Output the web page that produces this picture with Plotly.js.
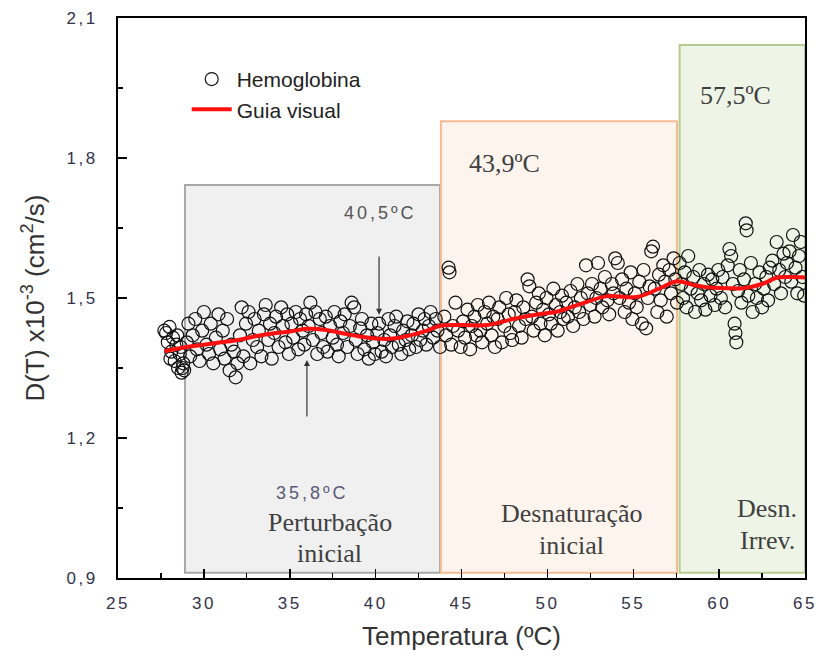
<!DOCTYPE html>
<html>
<head>
<meta charset="utf-8">
<script src="https://cdn.plot.ly/plotly-3.0.1.min.js"></script>
<style>
html,body{margin:0;padding:0;background:#fff;}
#chart{width:817px;height:659px;}
#chart g.xtick text, #chart g.ytick text{letter-spacing:2.5px;}
</style>
</head>
<body>
<div id="chart"></div>
<script>
// Hemoglobina: temperature (ºC) and D(T) x10^-3 (cm^2/s)
const temps = [
27.7,27.8,27.9,28.0,28.05,28.1,28.2,28.3,28.4,28.45,28.5,28.6,28.65,28.7,28.75,28.8,28.85,
29.0,29.1,29.2,29.35,29.5,29.6,29.75,29.9,
30.0,30.15,30.3,30.4,30.55,30.7,30.85,30.95,
31.1,31.2,31.35,31.5,31.6,31.75,31.85,31.95,
32.1,32.2,32.3,32.45,32.6,32.7,32.85,32.95,
33.1,33.2,33.35,33.5,33.6,33.75,33.85,33.95,
34.1,34.2,34.35,34.5,34.6,34.75,34.85,34.95,
35.1,35.2,35.35,35.5,35.6,35.75,35.85,35.95,
36.1,36.2,36.35,36.5,36.6,36.75,36.85,36.95,
37.1,37.2,37.35,37.5,37.6,37.75,37.85,37.95,
38.1,38.2,38.35,38.5,38.6,38.75,38.85,38.95,
39.1,39.2,39.35,39.5,39.6,39.75,39.85,39.95,
40.1,40.2,40.35,40.5,40.6,40.75,40.85,40.95,
41.1,41.2,41.35,41.5,41.6,41.75,41.85,41.95,
42.1,42.2,42.35,42.5,42.6,42.75,42.85,42.95,
43.1,43.2,43.35,43.5,43.6,43.75,
44.0,44.1,44.25,44.3,44.4,44.5,44.65,44.8,44.95,
45.1,45.2,45.35,45.5,45.6,45.75,45.85,45.95,
46.1,46.2,46.35,46.5,46.6,46.75,46.85,46.95,
47.1,47.2,47.35,47.5,47.6,47.75,47.85,47.95,
48.1,48.2,48.35,48.5,48.6,48.75,48.85,48.95,
49.1,49.2,49.35,49.5,49.6,49.75,49.85,49.95,
50.1,50.2,50.35,50.5,50.6,50.75,50.85,50.95,
51.1,51.2,51.35,51.5,51.6,51.75,51.85,51.95,
52.1,52.25,52.35,52.5,52.6,52.75,52.85,52.95,
53.1,53.2,53.35,53.5,53.6,53.75,53.85,53.95,
54.1,54.2,54.35,54.5,54.6,54.75,54.85,54.95,
55.1,55.2,55.35,55.5,55.6,55.75,55.85,55.95,
56.05,56.15,56.25,56.4,56.5,56.6,56.75,56.85,56.95,
57.1,57.2,57.35,57.45,57.55,
57.7,57.8,57.9,58.0,
58.1,58.2,58.35,58.5,58.6,58.75,58.85,58.95,
59.1,59.2,59.35,59.5,59.6,59.75,59.85,59.95,
60.1,60.2,60.35,60.5,60.6,60.7,60.8,60.9,60.95,61.0,
61.1,61.2,61.3,61.45,61.55,61.6,61.7,61.85,61.95,
62.1,62.2,62.35,62.5,62.6,62.75,62.85,62.95,
63.1,63.2,63.35,63.5,63.6,63.75,63.85,63.95,
64.1,64.2,64.3,64.45,64.55,64.65,64.75,64.85,64.95
];
const diffusion = [
1.430,1.425,1.405,1.438,1.370,1.385,1.415,1.365,1.400,1.420,1.350,1.380,1.395,1.340,1.350,1.360,1.345,
1.405,1.445,1.375,1.420,1.455,1.390,1.365,1.430,
1.470,1.400,1.380,1.445,1.360,1.415,1.465,1.390,
1.430,1.370,1.455,1.345,1.400,1.385,1.330,1.360,
1.420,1.480,1.375,1.445,1.470,1.360,1.410,1.455,
1.395,1.430,1.375,1.465,1.485,1.410,1.445,1.370,
1.425,1.460,1.395,1.480,1.440,1.405,1.465,1.380,
1.445,1.415,1.470,1.390,1.455,1.430,1.400,1.465,
1.440,1.490,1.410,1.470,1.380,1.455,1.425,1.395,
1.460,1.385,1.440,1.415,1.470,1.400,1.375,1.450,
1.425,1.465,1.395,1.440,1.490,1.480,1.410,1.380,
1.435,1.455,1.390,1.420,1.370,1.445,1.405,1.380,
1.425,1.445,1.385,1.410,1.375,1.455,1.420,1.395,
1.440,1.460,1.400,1.380,1.430,1.410,1.450,1.390,
1.420,1.445,1.395,1.465,1.410,1.430,1.455,1.400,
1.440,1.470,1.415,1.455,1.430,1.395,
1.460,1.420,1.565,1.555,1.400,1.440,1.490,1.430,1.395,
1.450,1.415,1.475,1.390,1.440,1.460,1.420,1.485,
1.430,1.405,1.470,1.445,1.490,1.420,1.460,1.395,
1.455,1.480,1.405,1.440,1.500,1.465,1.425,1.410,
1.470,1.495,1.440,1.415,1.480,1.455,1.540,1.525,
1.460,1.430,1.490,1.510,1.445,1.475,1.420,1.500,
1.465,1.445,1.520,1.485,1.430,1.470,1.505,1.455,
1.490,1.460,1.515,1.440,1.480,1.530,1.470,1.500,
1.455,1.570,1.510,1.485,1.530,1.460,1.500,1.575,
1.520,1.480,1.545,1.495,1.465,1.530,1.510,1.585,
1.575,1.500,1.540,1.470,1.520,1.490,1.555,1.455,
1.510,1.480,1.535,1.445,1.560,1.435,1.500,1.525,
1.600,1.610,1.520,1.470,1.550,1.495,1.570,1.535,1.460,
1.560,1.510,1.585,1.540,1.490,
1.575,1.530,1.500,1.555,
1.480,1.590,1.520,1.545,1.470,1.510,1.560,1.495,
1.530,1.475,1.550,1.505,1.540,1.485,1.520,1.560,
1.500,1.545,1.480,1.570,1.605,1.590,1.530,1.445,1.425,1.405,
1.515,1.560,1.490,1.540,1.660,1.645,1.505,1.575,1.470,
1.530,1.500,1.555,1.480,1.520,1.545,1.495,1.565,
1.580,1.530,1.620,1.560,1.510,1.595,1.545,1.575,
1.600,1.535,1.635,1.565,1.510,1.590,1.620,1.545,1.505
];
// Guia visual (smooth guide line)
const guideT = [27.7,29.0,30.0,31.0,32.0,33.0,34.0,35.0,36.0,37.0,38.0,39.0,40.0,41.0,42.0,43.0,43.7,45.0,46.5,48.0,49.5,50.6,52.0,53.5,55.2,56.5,57.55,58.5,59.3,60.5,61.4,62.5,63.4,64.2,65.0];
const guideD = [1.386,1.395,1.400,1.405,1.410,1.418,1.424,1.428,1.434,1.432,1.425,1.418,1.413,1.413,1.420,1.430,1.440,1.442,1.442,1.455,1.465,1.471,1.488,1.504,1.502,1.520,1.536,1.528,1.523,1.521,1.521,1.530,1.544,1.545,1.544];

const xTicks = [25,30,35,40,45,50,55,60,65];
const yTicks = [0.9,1.2,1.5,1.8,2.1];

const traces = [
  {x: temps, y: diffusion, type: 'scatter', mode: 'markers', name: 'Hemoglobina',
   marker: {symbol: 'circle-open', size: 13, color: '#111', line: {width: 1.2, color: '#111'}}},
  {x: guideT, y: guideD, type: 'scatter', mode: 'lines', name: 'Guia visual',
   line: {color: '#ff1010', width: 4, shape: 'spline'}}
];

const serif = {family: 'Liberation Serif, Times New Roman, serif', size: 26, color: '#3f3f3f'};
const sans = {family: 'Liberation Sans, Arial, sans-serif', size: 18, color: '#555'};
const sansTitle = {family: 'Liberation Sans, Arial, sans-serif', size: 26, color: '#333'};
const tickFont = {family: 'Liberation Sans, Arial, sans-serif', size: 17, color: '#33334a'};

function txt(x, y, text, font) {
  return {x: x, y: y, xref: 'x', yref: 'y', text: text, showarrow: false, font: font};
}

const layout = {
  width: 817, height: 659,
  margin: {l: 118, r: 12, t: 18, b: 81},
  paper_bgcolor: '#fff', plot_bgcolor: '#fff',
  separators: ',.',
  showlegend: true,
  legend: {x: 0.1, y: 0.927, xanchor: 'left', yanchor: 'top', bgcolor: 'rgba(0,0,0,0)',
           font: {family: 'Liberation Sans, Arial, sans-serif', size: 21, color: '#222'},
           tracegroupgap: 0, itemwidth: 40},
  xaxis: {range: [25, 65], tickvals: xTicks, ticktext: xTicks.map(String),
          ticks: 'inside', ticklen: 9, tickwidth: 1.5, tickcolor: '#000',
          minor: {dtick: 2.5, tick0: 25, ticks: 'inside', ticklen: 5, tickwidth: 1.2, tickcolor: '#000'},
          showline: true, linewidth: 2, linecolor: '#000', mirror: true,
          showgrid: false, zeroline: false, ticklabelstandoff: 9,
          tickfont: tickFont,
          title: {text: 'Temperatura (ºC)', font: sansTitle, standoff: 14}},
  yaxis: {range: [0.9, 2.1], tickvals: yTicks, ticktext: yTicks.map(v => v.toFixed(1).replace('.', ',')),
          ticks: 'inside', ticklen: 9, tickwidth: 1.5, tickcolor: '#000',
          minor: {dtick: 0.15, tick0: 0.9, ticks: 'inside', ticklen: 5, tickwidth: 1.2, tickcolor: '#000'},
          showline: true, linewidth: 2, linecolor: '#000', mirror: true,
          showgrid: false, zeroline: false, ticklabelstandoff: 15,
          tickfont: tickFont,
          title: {text: 'D(T) x10<sup>-3</sup> (cm<sup>2</sup>/s)', font: sansTitle, standoff: 22}},
  shapes: [
    {type: 'rect', xref: 'x', yref: 'y', x0: 28.9, x1: 43.75, y0: 0.911, y1: 1.742, layer: 'below',
     fillcolor: '#f0f0f0', line: {color: '#a8a8a8', width: 2}},
    {type: 'rect', xref: 'x', yref: 'y', x0: 43.8, x1: 57.55, y0: 0.911, y1: 1.879, layer: 'below',
     fillcolor: '#fdf4ee', line: {color: '#f5bb92', width: 2}},
    {type: 'rect', xref: 'x', yref: 'y', x0: 57.7, x1: 65, y0: 0.911, y1: 2.042, layer: 'below',
     fillcolor: '#eef4e6', line: {color: '#b5cc8e', width: 2}}
  ],
  annotations: [
    txt(40.26, 1.682, '40,5ºC', sans),
    {x: 40.2, y: 1.464, ax: 40.2, ay: 1.592, xref: 'x', yref: 'y', axref: 'x', ayref: 'y', text: '',
     showarrow: true, arrowhead: 2, arrowsize: 1, arrowwidth: 1.2, arrowcolor: '#333'},
    txt(36.35, 1.082, '35,8ºC', {family: 'Liberation Sans, Arial, sans-serif', size: 18, color: '#5a5a78'}),
    {x: 36.0, y: 1.367, ax: 36.0, ay: 1.243, xref: 'x', yref: 'y', axref: 'x', ayref: 'y', text: '',
     showarrow: true, arrowhead: 2, arrowsize: 1, arrowwidth: 1.2, arrowcolor: '#333'},
    txt(37.34, 1.018, 'Perturbação', serif),
    txt(37.34, 0.9535, 'inicial', serif),
    txt(47.53, 1.789, '43,9ºC', serif),
    txt(60.98, 1.935, '57,5ºC', serif),
    txt(51.43, 1.039, 'Desnaturação', serif),
    txt(51.43, 0.970, 'inicial', serif),
    txt(62.79, 1.050, 'Desn.', serif),
    txt(62.79, 0.981, 'Irrev.', serif)
  ]
};

Plotly.newPlot('chart', traces, layout, {displayModeBar: false, staticPlot: true}).then(function () {
  // widen letter spacing of the sans-serif temperature labels, like the reference
  document.querySelectorAll('#chart .annotation-text').forEach(function (t) {
    if (/^\d\d,\dºC$/.test(t.textContent) && t.style.fontFamily.indexOf('Sans') >= 0) {
      t.style.letterSpacing = '3px';
    }
  });
});
</script>
</body>
</html>
